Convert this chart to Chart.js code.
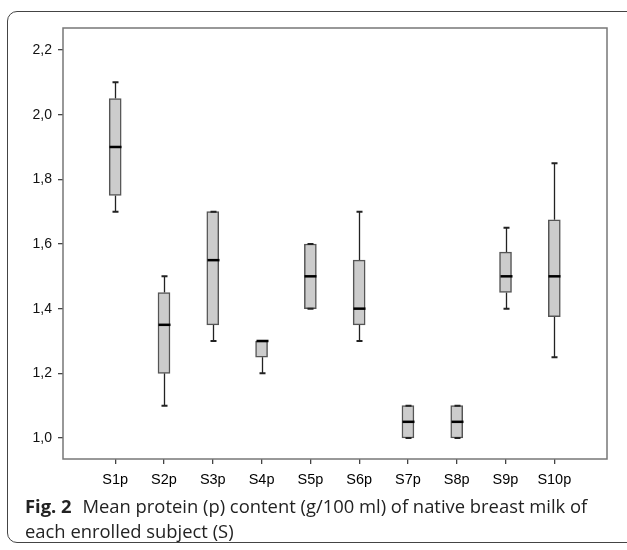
<!DOCTYPE html>
<html>
<head>
<meta charset="utf-8">
<script src="https://cdn.jsdelivr.net/npm/chart.js@4.4.1/dist/chart.umd.min.js"></script>
<style>
  html, body { margin: 0; padding: 0; background: #fff; }
  #frame {
    position: absolute; left: 7px; top: 11px; width: 640px; height: 532px;
    border: 1.5px solid #444; border-radius: 10px; box-sizing: border-box;
  }
  #wrap { position: absolute; left: 0; top: 0; width: 627px; height: 500px; }
  #caption {
    position: absolute; left: 25px; top: 493px; width: 580px;
    font-family: "Open Sans", "Noto Sans", sans-serif; font-size: 18.4px;
    line-height: 25px; color: #222;
  }
  #caption b { font-weight: 700; margin-right: 6px; }
</style>
</head>
<body>
<div id="frame"></div>
<div id="wrap"><canvas id="chart"></canvas></div>
<div id="caption"><b>Fig. 2</b> Mean protein (p) content (g/100 ml) of native breast milk of each enrolled subject (S)</div>
<script>
// subjects and box-plot summary
const subjects = ['S1p', 'S2p', 'S3p', 'S4p', 'S5p', 'S6p', 'S7p', 'S8p', 'S9p', 'S10p'];
const minVals  = [1.70, 1.10, 1.30, 1.20, 1.40, 1.30, 1.00, 1.00, 1.40, 1.25];
const q1Vals   = [1.75, 1.20, 1.35, 1.25, 1.40, 1.35, 1.00, 1.00, 1.45, 1.375];
const medVals  = [1.90, 1.35, 1.55, 1.30, 1.50, 1.40, 1.05, 1.05, 1.50, 1.50];
const q3Vals   = [2.05, 1.45, 1.70, 1.30, 1.60, 1.55, 1.10, 1.10, 1.575, 1.675];
const maxVals  = [2.10, 1.50, 1.70, 1.30, 1.60, 1.70, 1.10, 1.10, 1.65, 1.85];
const yTicks   = [1.0, 1.2, 1.4, 1.6, 1.8, 2.0, 2.2];

const boxData = subjects.map((s, i) => ({ x: i + 1, y: [q1Vals[i], q3Vals[i]] }));

// whiskers, caps and medians drawn through the chart scales
const boxExtras = {
  id: 'boxExtras',
  beforeDatasetsDraw(chart) {
    const { ctx, scales: { x, y } } = chart;
    ctx.save();
    ctx.strokeStyle = '#222';
    ctx.lineWidth = 1.3;
    subjects.forEach((s, i) => {
      const px = Math.round(x.getPixelForValue(i + 1)) + 0.5;
      ctx.beginPath();
      ctx.moveTo(px, y.getPixelForValue(minVals[i]));
      ctx.lineTo(px, y.getPixelForValue(q1Vals[i]));
      ctx.moveTo(px, y.getPixelForValue(q3Vals[i]));
      ctx.lineTo(px, y.getPixelForValue(maxVals[i]));
      ctx.stroke();
    });
    ctx.restore();
  },
  afterDatasetsDraw(chart) {
    const { ctx, scales: { x, y }, chartArea } = chart;
    ctx.save();
    subjects.forEach((s, i) => {
      const px = Math.round(x.getPixelForValue(i + 1)) + 0.5;
      ctx.strokeStyle = '#222';
      ctx.lineWidth = 2;
      ctx.beginPath();
      [minVals[i], maxVals[i]].forEach(v => {
        const py = y.getPixelForValue(v);
        ctx.moveTo(px - 3, py);
        ctx.lineTo(px + 3, py);
      });
      ctx.stroke();
      ctx.strokeStyle = '#000';
      ctx.lineWidth = 2.5;
      ctx.beginPath();
      const pm = y.getPixelForValue(medVals[i]);
      ctx.moveTo(px - 6, pm);
      ctx.lineTo(px + 6, pm);
      ctx.stroke();
    });
    // plot frame
    ctx.strokeStyle = '#777';
    ctx.lineWidth = 1.5;
    ctx.strokeRect(chartArea.left, chartArea.top, chartArea.right - chartArea.left, chartArea.bottom - chartArea.top);
    ctx.restore();
  }
};

new Chart(document.getElementById('chart'), {
  type: 'bar',
  data: {
    datasets: [{
      data: boxData,
      backgroundColor: '#cccccc',
      borderColor: '#555555',
      borderWidth: 1.5,
      borderSkipped: false,
      barThickness: 12
    }]
  },
  options: {
    responsive: true,
    maintainAspectRatio: false,
    animation: false,
    events: [],
    layout: { padding: { left: 0, top: 28, right: 20, bottom: 11 } },
    plugins: { legend: { display: false }, tooltip: { enabled: false } },
    scales: {
      x: {
        type: 'linear',
        offset: false,
        min: -0.07,
        max: 11.08,
        afterBuildTicks: sc => { sc.ticks = subjects.map((s, i) => ({ value: i + 1 })); },
        afterFit: sc => { sc.height = 30; },
        grid: { offset: false, drawOnChartArea: false, drawTicks: true, tickLength: 5, color: '#444', lineWidth: 1.3 },
        border: { display: false },
        ticks: {
          autoSkip: false, maxRotation: 0, padding: 7,
          color: '#000',
          font: { family: 'Liberation Sans, Arial, sans-serif', size: 14.5 },
          callback: v => subjects[v - 1]
        }
      },
      y: {
        min: 0.935,
        max: 2.268,
        afterBuildTicks: sc => { sc.ticks = yTicks.map(v => ({ value: v })); },
        afterFit: sc => { sc.width = 63; },
        grid: { drawOnChartArea: false, drawTicks: true, tickLength: 5, color: '#444', lineWidth: 1.3 },
        border: { display: false },
        ticks: {
          padding: 6,
          color: '#111',
          font: { family: 'Liberation Sans, Arial, sans-serif', size: 14 },
          callback: v => v.toFixed(1).replace('.', ',')
        }
      }
    }
  },
  plugins: [boxExtras]
});
</script>
</body>
</html>
